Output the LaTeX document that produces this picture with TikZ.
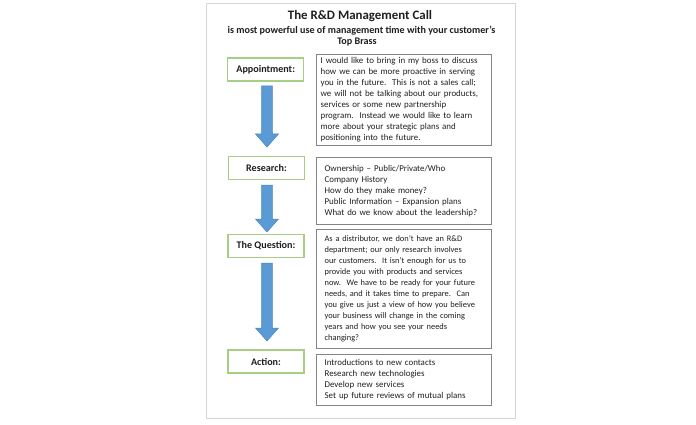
\documentclass[tikz,border=0pt]{standalone}
\usepackage{fontspec}
\setmainfont{Carlito}
\definecolor{stagegreen}{HTML}{A6CF85}
\definecolor{boxgray}{HTML}{858585}
\definecolor{arrowblue}{HTML}{5B9BD5}
\definecolor{arrowedge}{HTML}{4A84BE}
\definecolor{textgray}{HTML}{1E1E1E}
\definecolor{framegray}{HTML}{D6D6D6}
\begin{document}
\hyphenpenalty=10000
\exhyphenpenalty=10000
\begin{tikzpicture}[x=1pt,y=-1pt,
  pageframe/.style={draw=framegray, line width=0.9pt},
  stage/.style={draw=stagegreen, line width=1.3pt, fill=white, minimum width=76pt, minimum height=23pt, inner sep=0pt, font=\fontsize{10.1}{12}\selectfont\bfseries, text=textgray},
  info/.style={draw=boxgray, line width=1.2pt, anchor=north west, minimum width=175pt, text width=159pt, inner xsep=8pt, inner ysep=0pt, align=left, font=\fontsize{8.9}{11}\selectfont, text=textgray},
  bluearrow/.style={fill=arrowblue, draw=arrowedge, line width=0.5pt},
  titletext/.style={anchor=base, inner sep=0pt, text=textgray, font=\bfseries}]
\useasboundingbox (0,0) rectangle (696,425);
\draw[pageframe] (206,3.5) rectangle (515,418);

\node[titletext, font=\fontsize{12.9}{14}\selectfont\bfseries] (title) at (360,19.3) {The R\&D Management Call};
\node[titletext, font=\fontsize{10.1}{12}\selectfont\bfseries] (sub1) at (361.5,33.3) {is most powerful use of management time with your customer's};
\node[titletext, font=\fontsize{10.1}{12}\selectfont\bfseries] (sub2) at (357,45) {Top Brass};

\node[stage] (appt) at (265.7,69.6) {Appointment:};
\node[stage] (res) at (266.5,168) {Research:};
\node[stage] (quest) at (266,246) {The Question:};
\node[stage] (act) at (266,361.6) {Action:};

\node[info, minimum height=91pt, inner xsep=4pt, text width=167pt] (b1) at (316,54) {I would like to bring in my boss to discuss\\how we can be more proactive in serving\\you in the future.\ \ This is not a sales call;\\we will not be talking about our products,\\services or some new partnership\\program.\ \ Instead we would like to learn\\more about your strategic plans and\\positioning into the future.};
\node[info, minimum height=67pt] (b2) at (316,157) {Ownership -- Public/Private/Who\\Company History\\How do they make money?\\Public Information -- Expansion plans\\What do we know about the leadership?};
\node[info, minimum height=119pt, font=\fontsize{8.4}{11}\selectfont] (b3) at (316,229) {As a distributor, we don't have an R\&D\\department; our only research involves\\our customers.\ \ It isn't enough for us to\\provide you with products and services\\now.\ \ We have to be ready for your future\\needs, and it takes time to prepare.\ \ Can\\you give us just a view of how you believe\\your business will change in the coming\\years and how you see your needs\\changing?};
\node[info, minimum height=51pt] (b4) at (316,354) {Introductions to new contacts\\Research new technologies\\Develop new services\\Set up future reviews of mutual plans};

% block arrows: centre x, top y, tip y
\newcommand{\stagearrow}[3]{%
  \filldraw[bluearrow] (#1-5.3,#2) -- (#1+5.3,#2) -- (#1+5.3,#3-13) -- (#1+11.5,#3-13) -- (#1,#3) -- (#1-11.5,#3-13) -- (#1-5.3,#3-13) -- cycle;}
\stagearrow{267}{86}{147}
\stagearrow{267}{185}{232}
\stagearrow{267}{263}{341}
\end{tikzpicture}
\end{document}
